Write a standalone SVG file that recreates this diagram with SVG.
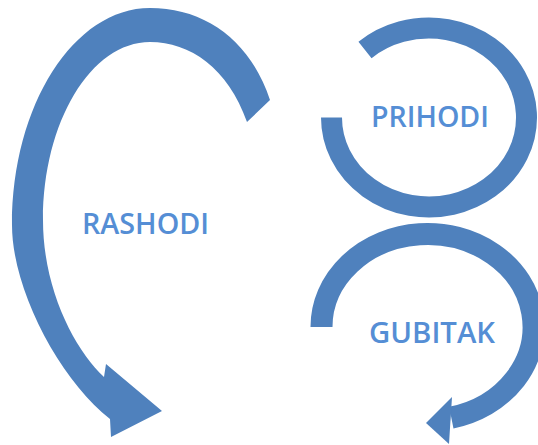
<svg xmlns="http://www.w3.org/2000/svg" width="538" height="445" viewBox="0 0 538 445">
  <style>
    .band { fill: #4F81BD; }
    .ring { fill: none; stroke: #4F81BD; stroke-linecap: butt; }
    .lbl { font-family: "Open Sans", "Liberation Sans", sans-serif; font-weight: 600; font-size: 29.5px; fill: #558ED5; }
  </style>
  <rect width="538" height="445" fill="#FFFFFF"/>
  <g id="connectors">
    <path id="arrow-rashodi" class="band" d="M 270,100 C 250,40 205,8 150,8 C 74,8 12,105 12,225 C 12,290 60,380 110,419 L 111,437 L 162,411 L 106,364 L 104,377 C 75,350 43,290 43,220 C 43,122 91,42 150,42 C 190,42 228,68 247,122 Z"/>
    <path id="arc-prihodi" class="ring" stroke-width="21" d="M 331.5,117.5 A 97.5 89.5 0 1 0 365,50"/>
    <g id="arrow-gubitak">
      <path class="ring" stroke-width="22" d="M 321.5,327 A 106 93 0 1 1 451.3,417.6"/>
      <polygon class="band" points="452,397 426,423 449,444"/>
    </g>
  </g>
  <g id="node-rashodi">
    <text class="lbl" x="82" y="234" textLength="127" lengthAdjust="spacingAndGlyphs">RASHODI</text>
  </g>
  <g id="node-prihodi">
    <text class="lbl" x="371" y="127" textLength="118" lengthAdjust="spacingAndGlyphs">PRIHODI</text>
  </g>
  <g id="node-gubitak">
    <text class="lbl" x="369" y="343" textLength="126" lengthAdjust="spacingAndGlyphs">GUBITAK</text>
  </g>
</svg>
